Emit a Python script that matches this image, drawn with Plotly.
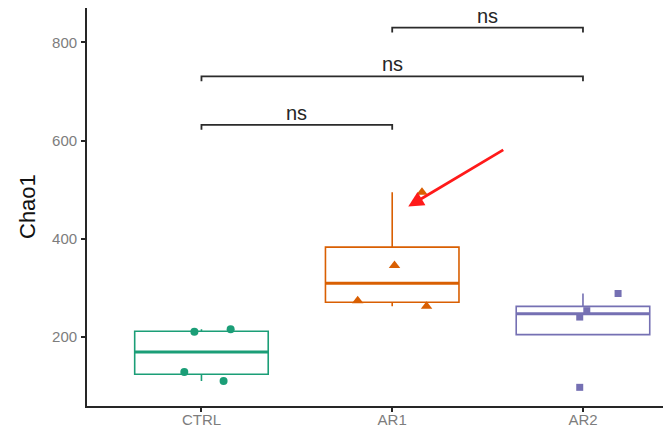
import numpy as np
import plotly.graph_objects as go

# ---- data ----
groups = ["CTRL", "AR1", "AR2"]
ctrl_values = [111, 129, 211, 216]
ar1_values = [263, 274, 346, 495]
ar2_values = [98, 241, 254, 289]
# horizontal jitter of each point (category units)
ctrl_jitter = [0.116, -0.09, -0.037, 0.153]
ar1_jitter = [0.18, -0.181, 0.012, 0.156]
ar2_jitter = [-0.017, -0.017, 0.02, 0.184]

comparisons = [(0, 1), (0, 2), (1, 2)]
comparison_y = [632, 731, 830]
comparison_labels = ["ns", "ns", "ns"]
y_ticks = [200, 400, 600, 800]

# ---- styling ----
colors = ["#1b9e77", "#d95f02", "#7570b3"]
symbols = ["circle", "triangle-up", "square"]
marker_sizes = [8, 10, 7]
box_width = 0.7
font_family = "Liberation Sans, Arial, sans-serif"
axis_color = "#262626"
tick_font_color = "#7d7d7d"

values_all = [ctrl_values, ar1_values, ar2_values]
jitter_all = [ctrl_jitter, ar1_jitter, ar2_jitter]


def box_stats(vals):
    v = np.asarray(vals, dtype=float)
    q1, med, q3 = np.percentile(v, [25, 50, 75])
    iqr = q3 - q1
    lo = v[v >= q1 - 1.5 * iqr].min()
    hi = v[v <= q3 + 1.5 * iqr].max()
    return q1, med, q3, lo, hi


fig = go.Figure()

for i, (name, vals, jit) in enumerate(zip(groups, values_all, jitter_all)):
    q1, med, q3, lo, hi = box_stats(vals)
    fig.add_trace(go.Box(
        x=[i], q1=[q1], median=[med], q3=[q3],
        lowerfence=[lo], upperfence=[hi],
        width=box_width, whiskerwidth=0,
        fillcolor="rgba(255,255,255,0)",
        line=dict(color=colors[i], width=1.6),
        boxpoints=False, showlegend=False, name=name,
    ))
    # thicker median line (ggplot style)
    fig.add_trace(go.Scatter(
        x=[i - box_width / 2, i + box_width / 2], y=[med, med],
        mode="lines", line=dict(color=colors[i], width=3),
        showlegend=False, hoverinfo="skip",
    ))
    fig.add_trace(go.Scatter(
        x=[i + j for j in jit], y=vals, mode="markers",
        marker=dict(symbol=symbols[i], size=marker_sizes[i], color=colors[i],
                    line=dict(width=0)),
        showlegend=False, name=name,
    ))

# significance brackets
tip = 10
for (a, b), yv, lab in zip(comparisons, comparison_y, comparison_labels):
    fig.add_trace(go.Scatter(
        x=[a, a, b, b], y=[yv - tip, yv, yv, yv - tip], mode="lines",
        line=dict(color="#2b2b2b", width=1.8), showlegend=False, hoverinfo="skip",
    ))
    fig.add_annotation(
        x=(a + b) / 2, y=yv, text=lab, showarrow=False,
        yanchor="middle", yshift=12, height=16, valign="middle",
        font=dict(family=font_family, size=20, color="#262626"),
    )

# red arrow annotation
arrow_head = (1.084, 466)
arrow_tail = (1.59, 583)
fig.add_annotation(
    x=arrow_head[0], y=arrow_head[1], ax=arrow_tail[0], ay=arrow_tail[1],
    xref="x", yref="y", axref="x", ayref="y", text="", showarrow=True,
    arrowhead=2, arrowsize=1.1, arrowwidth=2.8, arrowcolor="#ff1a1a",
)

# y-axis title
fig.add_annotation(
    x=-60 / 578, y=0.5, xref="paper", yref="paper", text="Chao1",
    textangle=-90, showarrow=False, xanchor="center", yanchor="middle",
    font=dict(family=font_family, size=22, color="#111111"),
)

# the page body adds an 8px offset on the left and top
fig.update_layout(
    width=663, height=422,
    margin=dict(l=79, r=6, t=0, b=23.5, autoexpand=False),
    paper_bgcolor="white", plot_bgcolor="white",
    font=dict(family=font_family),
    xaxis=dict(
        range=[-0.6, 2.43], tickvals=[0, 1, 2], ticktext=groups,
        showline=True, linecolor=axis_color, linewidth=1.8,
        ticks="outside", ticklen=4, tickwidth=1.5, tickcolor=axis_color,
        tickfont=dict(size=15, color=tick_font_color, family=font_family),
        ticklabelstandoff=-5,
        showgrid=False, zeroline=False, automargin=False,
    ),
    yaxis=dict(
        range=[60, 870], tickvals=y_ticks,
        showline=True, linecolor=axis_color, linewidth=1.8,
        ticks="outside", ticklen=4, tickwidth=1.5, tickcolor=axis_color,
        tickfont=dict(size=15, color=tick_font_color, family=font_family),
        ticklabelstandoff=1,
        showgrid=False, zeroline=False, automargin=False,
    ),
)

fig.write_html("out.html")
